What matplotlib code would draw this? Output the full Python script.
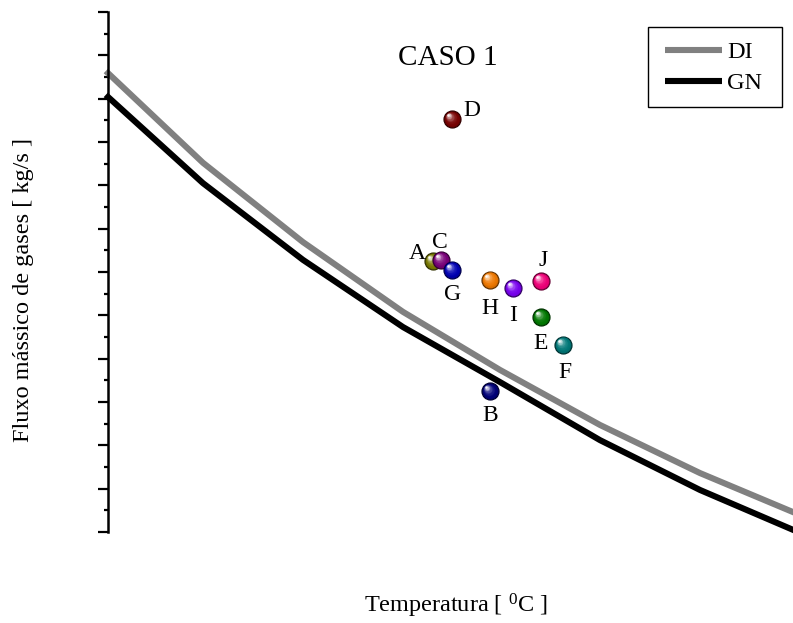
import numpy as np
import matplotlib
matplotlib.use("Agg")
import matplotlib.pyplot as plt
from matplotlib import transforms as mtransforms
from matplotlib.colors import to_rgb
from matplotlib.lines import Line2D
from matplotlib.patches import Rectangle
from matplotlib.ticker import MultipleLocator

plt.rcParams["font.family"] = ["Liberation Serif", "DejaVu Serif"]
plt.rcParams["mathtext.fontset"] = "custom"
plt.rcParams["mathtext.rm"] = "Liberation Serif"
plt.rcParams["mathtext.default"] = "regular"

# Curves: gas mass flow versus temperature
temp = [400, 495, 595, 695, 792, 892, 992, 1085]
flow_di = [10.59, 8.52, 6.69, 5.08, 3.74, 2.47, 1.36, 0.46]
flow_gn = [10.04, 8.05, 6.28, 4.73, 3.46, 2.12, 0.97, 0.05]

# Operating points
case_labels = ["A", "B", "C", "D", "E", "F", "G", "H", "I", "J"]
case_temp = [725, 782, 733, 744, 833, 855, 744, 782, 805, 833]
case_flow = [6.25, 3.25, 6.28, 9.53, 4.96, 4.32, 6.05, 5.82, 5.63, 5.79]
case_colors = ["#808000", "#000080", "#800080", "#800000", "#008000",
               "#008080", "#0000c0", "#ff8000", "#8000ff", "#ff0080"]

# label centre offsets (pixels) from each point
label_offsets = {"A": (-16, 10), "B": (0, -22), "C": (-1, 20), "D": (20, 11),
                 "E": (0, -24), "F": (2, -25), "G": (1, -22), "H": (0, -26),
                 "I": (0, -25), "J": (2, 23)}

W, H = 793, 623
fig = plt.figure(figsize=(W / 100, H / 100), dpi=100)
px = mtransforms.Affine2D().scale(1 / W, -1 / H).translate(0, 1) + fig.transFigure

ax = fig.add_axes([108 / W, (H - 532) / H, (W - 108) / W, 520 / H])
ax.set_xlim(400, 1085)
ax.set_ylim(0, 12)

ax.plot(temp, flow_di, color="#808080", lw=4.4, clip_on=False, zorder=2)
ax.plot(temp, flow_gn, color="black", lw=4.4, clip_on=False, zorder=3)

for s in ("top", "right", "bottom"):
    ax.spines[s].set_visible(False)
ax.spines["left"].set_linewidth(1.8)
ax.set_xticks([])
ax.yaxis.set_major_locator(MultipleLocator(1))
ax.yaxis.set_minor_locator(MultipleLocator(0.5))
ax.tick_params(axis="y", which="major", direction="out", length=7.2, width=1.6,
               labelleft=False)
ax.tick_params(axis="y", which="minor", direction="out", length=2.9, width=1.6)


def draw_ball(x, y, color, z):
    """Shaded sphere marker built from stacked discs."""
    base = np.array(to_rgb(color))
    d = 12.2
    ax.scatter([x], [y], s=d ** 2, color=base * 0.85, edgecolors=base * 0.4,
               linewidths=0.9, zorder=z, clip_on=False)
    n = 10
    for k in range(1, n + 1):
        f = k / n
        diam = d * (0.9 - 0.76 * f)
        shift = 0.24 * d * f
        col = np.clip(base * (0.9 + 0.1 * f) + (1 - base) * (f ** 2.6) * 0.97, 0, 1)
        tr = mtransforms.offset_copy(ax.transData, fig=fig, x=-shift * 0.9,
                                     y=shift, units="points")
        ax.scatter([x], [y], s=diam ** 2, color=col, linewidths=0,
                   zorder=z + k * 0.005, transform=tr, clip_on=False)


for i, (lab, t, f, c) in enumerate(zip(case_labels, case_temp, case_flow, case_colors)):
    draw_ball(t, f, c, 5 + i * 0.1)
    dx, dy = label_offsets[lab]
    ax.annotate(lab, (t, f), xytext=(dx, dy - 7.8), textcoords="offset pixels",
                ha="center", va="baseline", fontsize=17, zorder=10)

fig.text(447.5, 65, "CASO 1", transform=px, ha="center", va="baseline", fontsize=21)
fig.text(455.5, 613, "Temperatura [ $^{0}$C ]", transform=px, ha="center",
         va="baseline", fontsize=17.5)
fig.text(24, 289.5, "Fluxo mássico de gases [ kg/s ]", transform=px, rotation=90,
         ha="center", va="center", fontsize=17.5)

# legend box
fig.add_artist(Rectangle((648, 27), 134, 80, transform=px, facecolor="white",
                         edgecolor="black", lw=1.0, zorder=20))
for yy, col, name, yb in ((50, "#808080", "DI", 58), (81, "black", "GN", 89)):
    fig.add_artist(Line2D([665, 722], [yy, yy], transform=px, color=col, lw=4.4,
                          solid_capstyle="butt", zorder=21))
    fig.text(727, yb, name, transform=px, ha="left", va="baseline", fontsize=17.5,
             zorder=21)

fig.savefig("out.png", dpi=100)
